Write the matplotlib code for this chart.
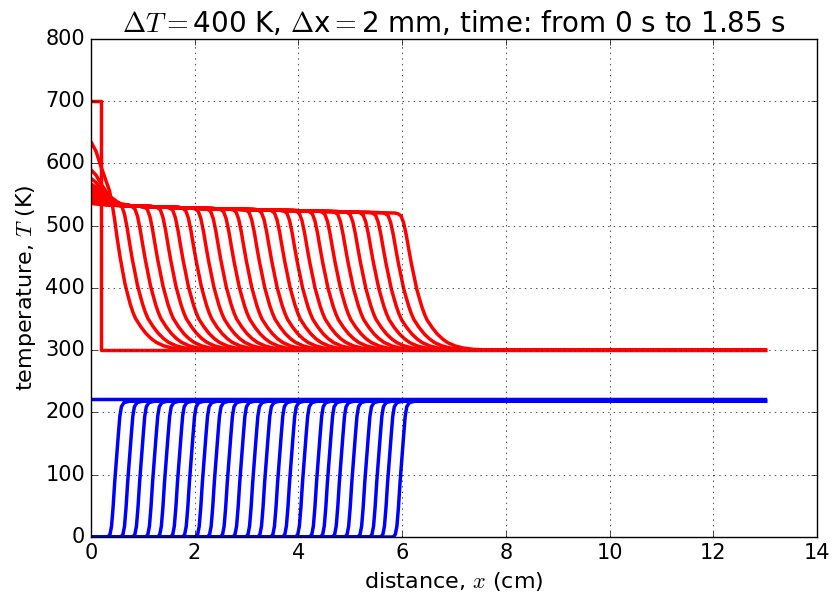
import numpy as np
import matplotlib
matplotlib.use('Agg')
import matplotlib.pyplot as plt

plt.style.use('classic')

# red: temperature snapshots, blue: second field
x_end = 13.0
T_init_hot, T_init_cold, x_hot = 700, 300, 0.2
blue_init = 221
blue_top = 218

# position where each red curve crosses 400 K (cm)
red_front = [0.66, 0.90, 1.15, 1.39, 1.64, 1.88, 2.13, 2.37, 2.61, 2.86, 3.10, 3.35,
             3.59, 3.84, 4.08, 4.32, 4.57, 4.81, 5.06, 5.30, 5.55, 5.79, 6.03, 6.28]
# red value at x = 0 for each curve
red_peak = [635, 590, 576, 567, 561, 556, 552, 549, 547, 545, 543, 542,
            541, 540, 539, 539, 538, 538, 537, 537, 537, 536, 536, 536]
# position of the middle of each blue step (cm)
blue_front = [0.48, 0.73, 0.96, 1.21, 1.44, 1.69, 1.92, 2.17, 2.40, 2.65, 2.89, 3.14,
              3.37, 3.62, 3.85, 4.10, 4.37, 4.58, 4.81, 5.05, 5.30, 5.53, 5.74, 5.98]

# plateau level behind the red fronts
plat_x = [0.0, 0.7, 1.0, 2.0, 3.0, 4.0, 5.0, 6.0, 7.0]
plat_T = [533, 532, 531, 528, 526, 524, 522, 520, 519]
# bump near x = 0 (fraction of peak excess)
bump_x = [0.0, 0.1, 0.2, 0.3, 0.4, 0.5, 0.6, 0.8]
bump_f = [1.0, 0.85, 0.6, 0.38, 0.22, 0.12, 0.06, 0.0]
# red front shape, offset from 400 K point vs fraction of plateau height
rf_dx = [-0.42, -0.36, -0.30, -0.25, -0.20, -0.15, -0.10, -0.05, 0.0, 0.05, 0.10,
         0.15, 0.20, 0.30, 0.40, 0.50, 0.60, 0.75, 0.90, 1.10, 1.50]
rf_g = [1.0, 0.996, 0.980, 0.930, 0.842, 0.734, 0.631, 0.541, 0.45, 0.383, 0.318,
        0.265, 0.222, 0.165, 0.118, 0.082, 0.055, 0.030, 0.016, 0.006, 0.0]
# blue step shape, offset from middle vs fraction of top level
bf_dx = [-0.15, -0.11, -0.08, -0.05, -0.02, 0.0, 0.02, 0.05, 0.08, 0.11, 0.16, 0.26]
bf_h = [0.0, 0.02, 0.08, 0.22, 0.40, 0.50, 0.60, 0.75, 0.89, 0.96, 0.99, 1.0]

fig = plt.figure(figsize=(8.33, 5.98), dpi=100)
ax = fig.add_axes([0.109, 0.102, 0.872, 0.833])

# initial profiles
ax.plot([0, x_hot, x_hot, x_end], [T_init_hot, T_init_hot, T_init_cold, T_init_cold], 'r-', lw=2.5)
ax.plot([0, x_end], [blue_init, blue_init], 'b-', lw=2.5)

for xf, pk in zip(red_front, red_peak):
    xs = np.unique(np.concatenate([bump_x, plat_x, np.array(rf_dx) + xf, [x_end]]))
    xs = xs[(xs >= 0) & (xs <= x_end)]
    base = np.interp(xs, plat_x, plat_T) + (pk - plat_T[0]) * np.interp(xs, bump_x, bump_f)
    g = np.interp(xs - xf, rf_dx, rf_g)
    ax.plot(xs, T_init_cold + (base - T_init_cold) * g, 'r-', lw=2.5)

for xb in blue_front:
    xs = np.unique(np.concatenate([[0], np.array(bf_dx) + xb, [x_end]]))
    xs = xs[(xs >= 0) & (xs <= x_end)]
    ax.plot(xs, blue_top * np.interp(xs - xb, bf_dx, bf_h), 'b-', lw=2.5)

ax.set_xlim(0, 14)
ax.set_ylim(0, 800)
ax.grid(True)
ax.tick_params(labelsize=15)
ax.set_xlabel('distance, $x$ (cm)', fontsize=16)
ax.set_ylabel('temperature, $T$ (K)', fontsize=16)
ax.set_title(r'$\Delta T = $400 K, $\Delta$x$ = $2 mm, time: from 0 s to 1.85 s', fontsize=20)

fig.savefig('out.png', dpi=100)
